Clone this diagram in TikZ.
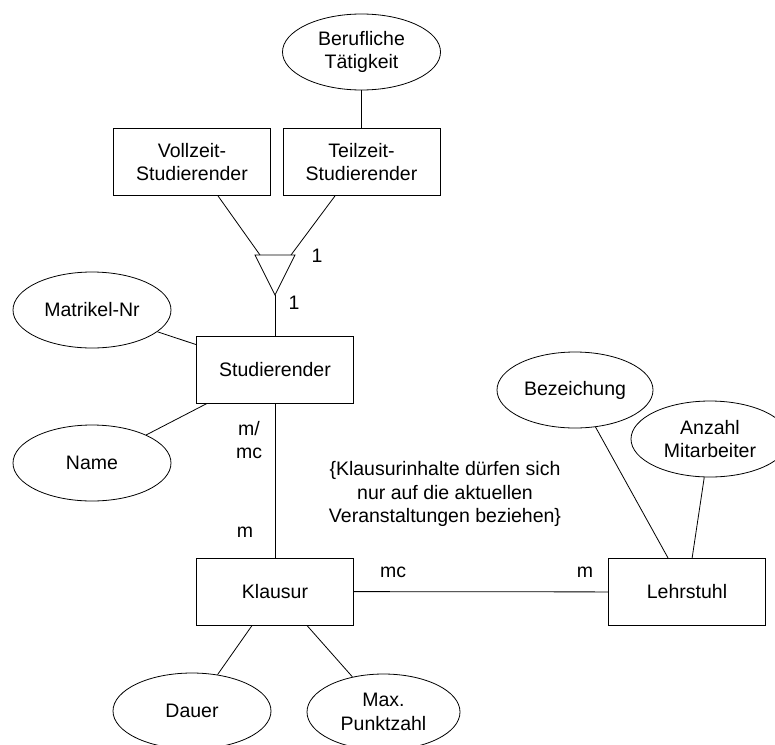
\documentclass[tikz,border=0pt]{standalone}
\usepackage{fontspec}
\setmainfont{Liberation Sans}
\usetikzlibrary{calc,shapes.geometric}

\begin{document}
\begin{tikzpicture}[x=1pt,y=-1pt,line width=0.8pt,
  font=\fontsize{19.5}{23.5}\selectfont,
  entity/.style={draw,rectangle,minimum width=157pt,minimum height=67pt,inner sep=2pt,align=center},
  attr/.style={draw,ellipse,minimum width=158pt,minimum height=76pt,inner sep=1pt,align=center},
  card/.style={inner sep=0pt,align=center}]
  \useasboundingbox (0,0) rectangle (775,744);
  % entities
  \node[entity] (vollz) at (192,162) {Vollzeit-\\Studierender};
  \node[entity] (teilz) at (361.5,162) {Teilzeit-\\Studierender};
  \node[entity] (stud) at (275,369.5) {Studierender};
  \node[entity] (klaus) at (275,591.5) {Klausur};
  \node[entity] (lehr) at (687,592) {Lehrstuhl};
  % attributes
  \node[attr] (beruf) at (361.5,52) {Berufliche\\Tätigkeit};
  \node[attr] (matr) at (92,310) {Matrikel-Nr};
  \node[attr] (name) at (92,463) {Name};
  \node[attr] (dauer) at (192,711) {Dauer};
  \node[attr,minimum width=153pt] (maxp) at (383.5,712) {Max.\\Punktzahl};
  \node[attr,minimum width=156pt] (bez) at (575,390) {Bezeichung};
  \node[attr] (anz) at (710,439) {Anzahl\\Mitarbeiter};
  % is-a triangle
  \coordinate (tl) at (255,255);
  \coordinate (tr) at (295,255);
  \coordinate (isa) at (275,295);
  \draw (tl) -- (tr) -- (isa) -- cycle;
  \draw ([xshift=26pt]vollz.south) -- ($(tl)!0.125!(tr)$);
  \draw ([xshift=-26.5pt]teilz.south) -- ($(tl)!0.9!(tr)$);
  \draw (isa) -- (stud.north);
  \draw (beruf) -- (teilz);
  % attribute links
  \draw (matr) -- ([yshift=-9pt]stud.north west);
  \draw (name) -- ([xshift=11pt]stud.south west);
  \draw (dauer) -- ([xshift=56pt]klaus.south west);
  \draw (maxp) -- ([xshift=-47pt]klaus.south east);
  \draw (bez) -- ([xshift=60pt]lehr.north west);
  \draw (anz) -- ([xshift=84pt]lehr.north west);
  % relationships
  \draw (stud) -- (klaus);
  \draw (klaus) -- (lehr);
  % cardinalities
  \node[card] (k1) at (317,256) {1};
  \node[card] (k2) at (294,303) {1};
  \node[card] (k3) at (249,440) {m/\\mc};
  \node[card] (k4) at (245,532) {m};
  \node[card] (k5) at (393,572) {mc};
  \node[card] (k6) at (585,572) {m};
  \node[card] (cond) at (445,494) {\{Klausurinhalte dürfen sich\\nur auf die aktuellen\\Veranstaltungen beziehen\}};
\end{tikzpicture}
\end{document}
